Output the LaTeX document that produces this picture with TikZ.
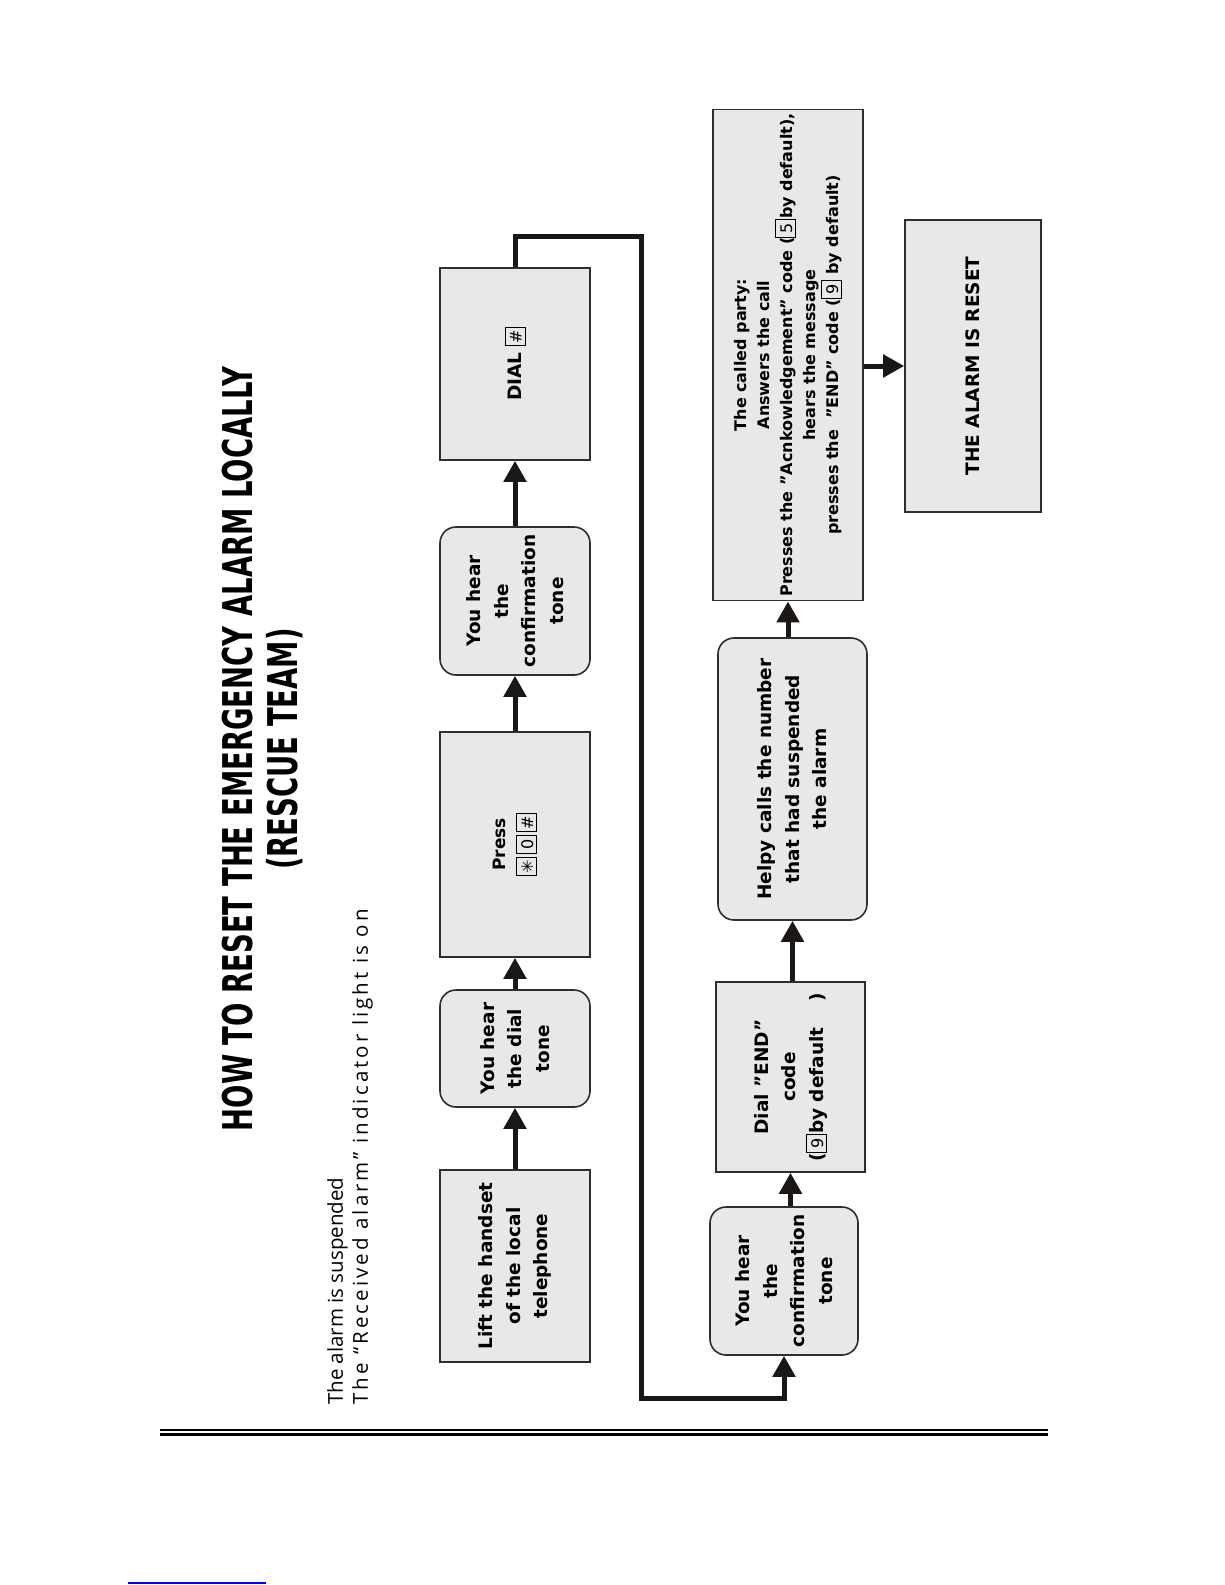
\documentclass[tikz,border=0pt]{standalone}
\usepackage{fontspec}
\setmainfont{DejaVu Sans}
\newfontfamily\titlefont[FakeStretch=0.67]{DejaVu Sans Bold}
\newfontfamily\notefont{Open Sans}
\newfontfamily\notewide[LetterSpace=15]{Open Sans}
\newfontfamily\keyfont{DejaVu Sans}
\usetikzlibrary{arrows.meta}
\definecolor{boxfill}{HTML}{E7E8EA}
\definecolor{boxline}{HTML}{2E2E2E}
\definecolor{connc}{HTML}{1B1714}
\newcommand\keycap[1]{{\setlength{\fboxsep}{0pt}\setlength{\fboxrule}{0.9pt}\fbox{\makebox[17pt]{\keyfont\mdseries\fontsize{16}{16}\selectfont\rule[-3pt]{0pt}{19pt}#1}}}}
\tikzset{
  box/.style={draw=boxline, fill=boxfill, line width=1.6pt, rotate=90, align=center, inner sep=4pt, font=\bfseries\fontsize{18.5}{27.5}\selectfont},
  rbox/.style={box, rounded corners=16pt},
  smallbox/.style={box, font=\bfseries\fontsize{16}{23}\selectfont},
  conn/.style={draw=connc, line width=5pt},
  arr/.style={conn, -{Triangle[width=22pt,length=21pt]}},
  titletext/.style={rotate=90, align=center, inner sep=0pt, font=\titlefont\fontsize{41}{45}\selectfont},
  notetext/.style={rotate=90, align=left, inner sep=0pt, font=\notefont\fontsize{20.5}{25}\selectfont},
}
\begin{document}
\begin{tikzpicture}[x=1pt,y=-1pt]
\fill[white] (0,0) rectangle (1225,1585);
\useasboundingbox (0,0) rectangle (1225,1585);

% title and note
\node[titletext] (title) at (262,749) {HOW TO RESET THE EMERGENCY ALARM LOCALLY\\(RESCUE TEAM)};
\node[notetext, anchor=west] (note) at (350,1405) {The alarm is suspended\\{\notewide The “Received alarm” indicator light is on}};

% top column
\node[box, minimum width=192pt, minimum height=150pt] (lift) at (515,1266) {Lift the handset\\of the local\\telephone};
\node[rbox, minimum width=117pt, minimum height=150pt] (dialtone) at (515,1048.5) {You hear\\the dial\\tone};
\node[box, minimum width=225pt, minimum height=150pt] (press) at (515,844.5) {{\fontsize{17}{25}\selectfont Press}\\\keycap{✳}\hspace{3pt}\keycap{0}\hspace{3pt}\keycap{\#}};
\node[rbox, minimum width=148pt, minimum height=150pt] (conf1) at (515,601) {You hear\\the\\confirmation\\tone};
\node[box, minimum width=192pt, minimum height=150pt] (dial) at (515,364) {DIAL \keycap{\#}};

% bottom column
\node[rbox, minimum width=148pt, minimum height=148pt] (conf2) at (784,1281) {You hear\\the\\confirmation\\tone};
\node[box, minimum width=190pt, minimum height=149pt] (endcode) at (790.5,1077) {Dial "END”\\code\\(\keycap{9}by default\hspace{26pt})};
\node[rbox, minimum width=282pt, minimum height=149pt] (helpy) at (792.5,779) {Helpy calls the number\\that had suspended\\the alarm};
\node[smallbox, minimum width=484pt, minimum height=150pt] (called) at (788,355) {The called party:\\Answers the call\\Presses the "Acnkowledgement” code (\keycap{5}by default),\\hears the message\\presses the\ \ "END” code (\keycap{9} by default)};
\node[box, minimum width=292pt, minimum height=136pt] (reset) at (973,366) {THE ALARM IS RESET};

% connectors
\draw[arr] (lift.east) -- (dialtone.west);
\draw[arr] (dialtone.east) -- (press.west);
\draw[arr] (press.east) -- (conf1.west);
\draw[arr] (conf1.east) -- (dial.west);
\coordinate (t1) at (641,236);
\coordinate (t2) at (641,1398);
\draw[arr] (dial.east) |- (t1) -- (t2) -| (conf2.west);
\draw[arr] (endcode.west |- conf2.east) -- (endcode.west);
\draw[arr] (helpy.west |- endcode.east) -- (helpy.west);
\draw[arr] (called.west |- helpy.east) -- (called.west);
\draw[arr] (called.south |- reset.north) -- (reset.north);

% footer rules
\draw[black, line width=1.5pt] (160,1430) -- (1048,1430);
\draw[black, line width=3pt] (160,1434.5) -- (1048,1434.5);
\draw[blue, line width=1.2pt] (128,1583) -- (266,1583);
\end{tikzpicture}
\end{document}
